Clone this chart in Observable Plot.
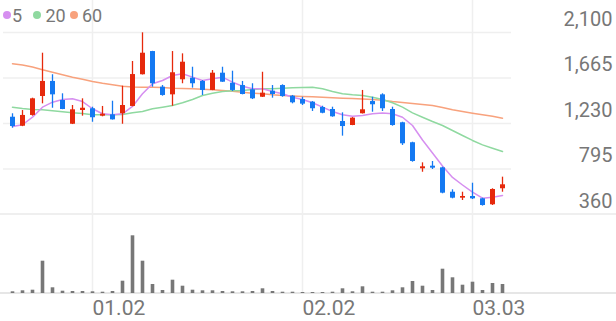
<!DOCTYPE html>
<html><head><meta charset="utf-8">
<script src="https://cdn.jsdelivr.net/npm/d3@7"></script>
<script src="https://cdn.jsdelivr.net/npm/@observablehq/plot@0.6"></script>
<style>
body{margin:0;background:#fff;}
#wrap{position:relative;width:616px;height:321px;overflow:hidden;font-family:Roboto,sans-serif;}
#price{position:absolute;left:0;top:0;}
#vol{position:absolute;left:0;top:214px;}
.hline{position:absolute;left:0;width:616px;}
.dot{position:absolute;width:8px;height:8px;border-radius:50%;top:11px;}
.lt{position:absolute;top:6.5px;font-size:18px;line-height:18px;color:#777;}
</style></head><body>
<div id="wrap">
  <div class="hline" style="top:213px;height:2px;background:#efefef"></div>
  <div class="hline" style="top:292px;height:2px;background:#e6e6e6"></div>
  <div id="price"></div>
  <div id="vol"></div>
  <span class="dot" style="left:2.7px;background:#d68ff0"></span><span class="lt" style="left:12px">5</span>
  <span class="dot" style="left:33px;background:#8fd9a0"></span><span class="lt" style="left:45.5px">20</span>
  <span class="dot" style="left:70px;background:#f8a27d"></span><span class="lt" style="left:82px">60</span>
</div>
<script>
const dates = ["12.18","12.19","12.22","12.23","12.24","12.26","12.29","12.30",
  "01.02","01.05","01.06","01.07","01.08","01.09","01.12","01.13","01.14","01.15","01.16",
  "01.19","01.20","01.21","01.22","01.23","01.26","01.27","01.28","01.29","01.30",
  "02.02","02.03","02.04","02.05","02.06","02.09","02.10","02.11","02.12","02.13",
  "02.19","02.20","02.23","02.24","02.25","02.26","02.27","03.03","03.04","03.05","03.06"];
const open  = [1290,1204,1307,1488,1632,1450,1223,1354,1371,1300,1313,1323,1393,1696,1918,1577,1504,1648,1663,1632,1546,1711,1615,1593,1552,1481,1539,1593,1491,1459,1434,1383,1364,1249,1211,1323,1440,1504,1364,1237,1046,797,822,806,573,516,532,510,453,606];
const high  = [1323,1354,1472,1902,1696,1514,1402,1466,1386,1393,1443,1587,1823,2097,1920,1593,1918,1896,1768,1641,1737,1768,1730,1632,1610,1720,1593,1600,1498,1481,1440,1395,1386,1332,1287,1546,1481,1514,1386,1242,1051,854,867,812,596,573,659,516,606,717];
const low   = [1185,1200,1300,1418,1376,1362,1220,1300,1242,1294,1263,1223,1390,1694,1577,1491,1395,1610,1568,1498,1544,1623,1536,1504,1459,1479,1472,1481,1418,1402,1345,1323,1290,1109,1209,1321,1338,1345,1204,1020,860,764,790,558,510,494,503,440,446,573];
const close = [1201,1307,1466,1632,1504,1364,1361,1376,1285,1319,1265,1402,1698,1902,1610,1498,1715,1816,1610,1546,1711,1625,1546,1507,1466,1520,1507,1488,1428,1415,1371,1328,1294,1201,1281,1361,1409,1371,1211,1036,867,816,803,564,516,532,510,446,599,644];
const volume = [170,270,330,3230,570,230,200,200,170,130,200,1230,5770,3230,900,300,1330,730,330,270,270,200,170,170,200,470,200,130,130,100,100,100,130,470,170,670,130,130,270,570,1200,730,300,2430,1570,830,1130,300,1000,900];
const ma5  = [1201,1218,1290,1386,1434,1459,1466,1440,1371,1323,1313,1323,1393,1514,1610,1641,1689,1705,1673,1641,1657,1673,1625,1587,1562,1562,1536,1514,1481,1459,1428,1386,1345,1313,1300,1307,1323,1330,1323,1290,1211,1072,948,824,714,642,573,516,525,542];
const ma20 = [1386,1373,1364,1361,1351,1342,1332,1326,1313,1313,1313,1316,1332,1345,1371,1386,1402,1428,1459,1498,1520,1536,1543,1546,1555,1562,1562,1568,1571,1574,1577,1562,1536,1514,1504,1498,1481,1459,1428,1386,1332,1290,1249,1211,1163,1115,1068,1026,994,962];
const ma60 = [1801,1789,1770,1743,1720,1696,1673,1653,1632,1615,1601,1587,1579,1577,1577,1574,1568,1565,1562,1557,1552,1546,1539,1529,1520,1514,1504,1498,1493,1489,1485,1481,1476,1472,1468,1464,1459,1453,1440,1431,1421,1412,1402,1383,1361,1345,1329,1314,1300,1281];
const priceTicks = [360, 795, 1230, 1665, 2100];
const dateTicks = ["01.02", "02.02", "03.03"];

const RED = "#e6290c", BLUE = "#1479f2";
const C5 = "#d68ff0", C20 = "#8fd9a0", C60 = "#f8a27d";
const GRID = "#efefef";

const rows = dates.map((d, i) => ({
  date: d, open: open[i], high: high[i], low: low[i], close: close[i],
  vol: volume[i], ma5: ma5[i], ma20: ma20[i], ma60: ma60[i],
  col: close[i] >= open[i] ? RED : BLUE
}));

const xScale = {type: "point", domain: dates, range: [5.5, 507.75], axis: null};

const price = Plot.plot({
  width: 616, height: 215,
  marginLeft: 3, marginRight: 105, marginTop: 0, marginBottom: 1,
  style: {fontFamily: "Roboto, sans-serif", background: "transparent", overflow: "visible"},
  x: xScale,
  y: {domain: [360, 2100], range: [214, 32], axis: null},
  color: {type: "identity"},
  marks: [
    Plot.ruleY(priceTicks.slice(1), {stroke: GRID, strokeWidth: 1.5}),
    Plot.ruleX(dateTicks, {stroke: GRID, strokeWidth: 1.5}),
    Plot.axisY(priceTicks, {anchor: "right", tickSize: 0, tickPadding: 0, textAnchor: "end", dx: 101, dy: -13,
      fontSize: 20, color: "#777", label: null, tickFormat: d3.format(",")}),
    Plot.lineY(rows, {x: "date", y: "ma60", stroke: C60, strokeWidth: 1.5}),
    Plot.lineY(rows, {x: "date", y: "ma20", stroke: C20, strokeWidth: 1.5}),
    Plot.lineY(rows, {x: "date", y: "ma5", stroke: C5, strokeWidth: 1.5}),
    Plot.ruleX(rows, {x: "date", y1: "low", y2: "high", stroke: "col", strokeWidth: 1.3}),
    Plot.ruleX(rows, {x: "date", y1: "open", y2: "close", stroke: "col", strokeWidth: 5})
  ]
});
document.getElementById("price").appendChild(price);

const vol = Plot.plot({
  width: 616, height: 107,
  marginLeft: 3, marginRight: 105, marginTop: 0, marginBottom: 28,
  style: {fontFamily: "Roboto, sans-serif", background: "transparent", overflow: "visible"},
  x: {...xScale, axis: null},
  y: {domain: [0, 6000], range: [79, 19], axis: null},
  marks: [
    Plot.ruleX(dateTicks, {stroke: GRID, strokeWidth: 1.5}),
    Plot.ruleX(rows, {x: "date", y1: 0, y2: "vol", stroke: "#777", strokeWidth: 3.6}),
    Plot.axisX(dateTicks, {anchor: "bottom", tickSize: 0, tickPadding: 7, textAnchor: "start", dx: 0,
      fontSize: 21, color: "#777", label: null})
  ]
});
document.getElementById("vol").appendChild(vol);
</script>
</body></html>
